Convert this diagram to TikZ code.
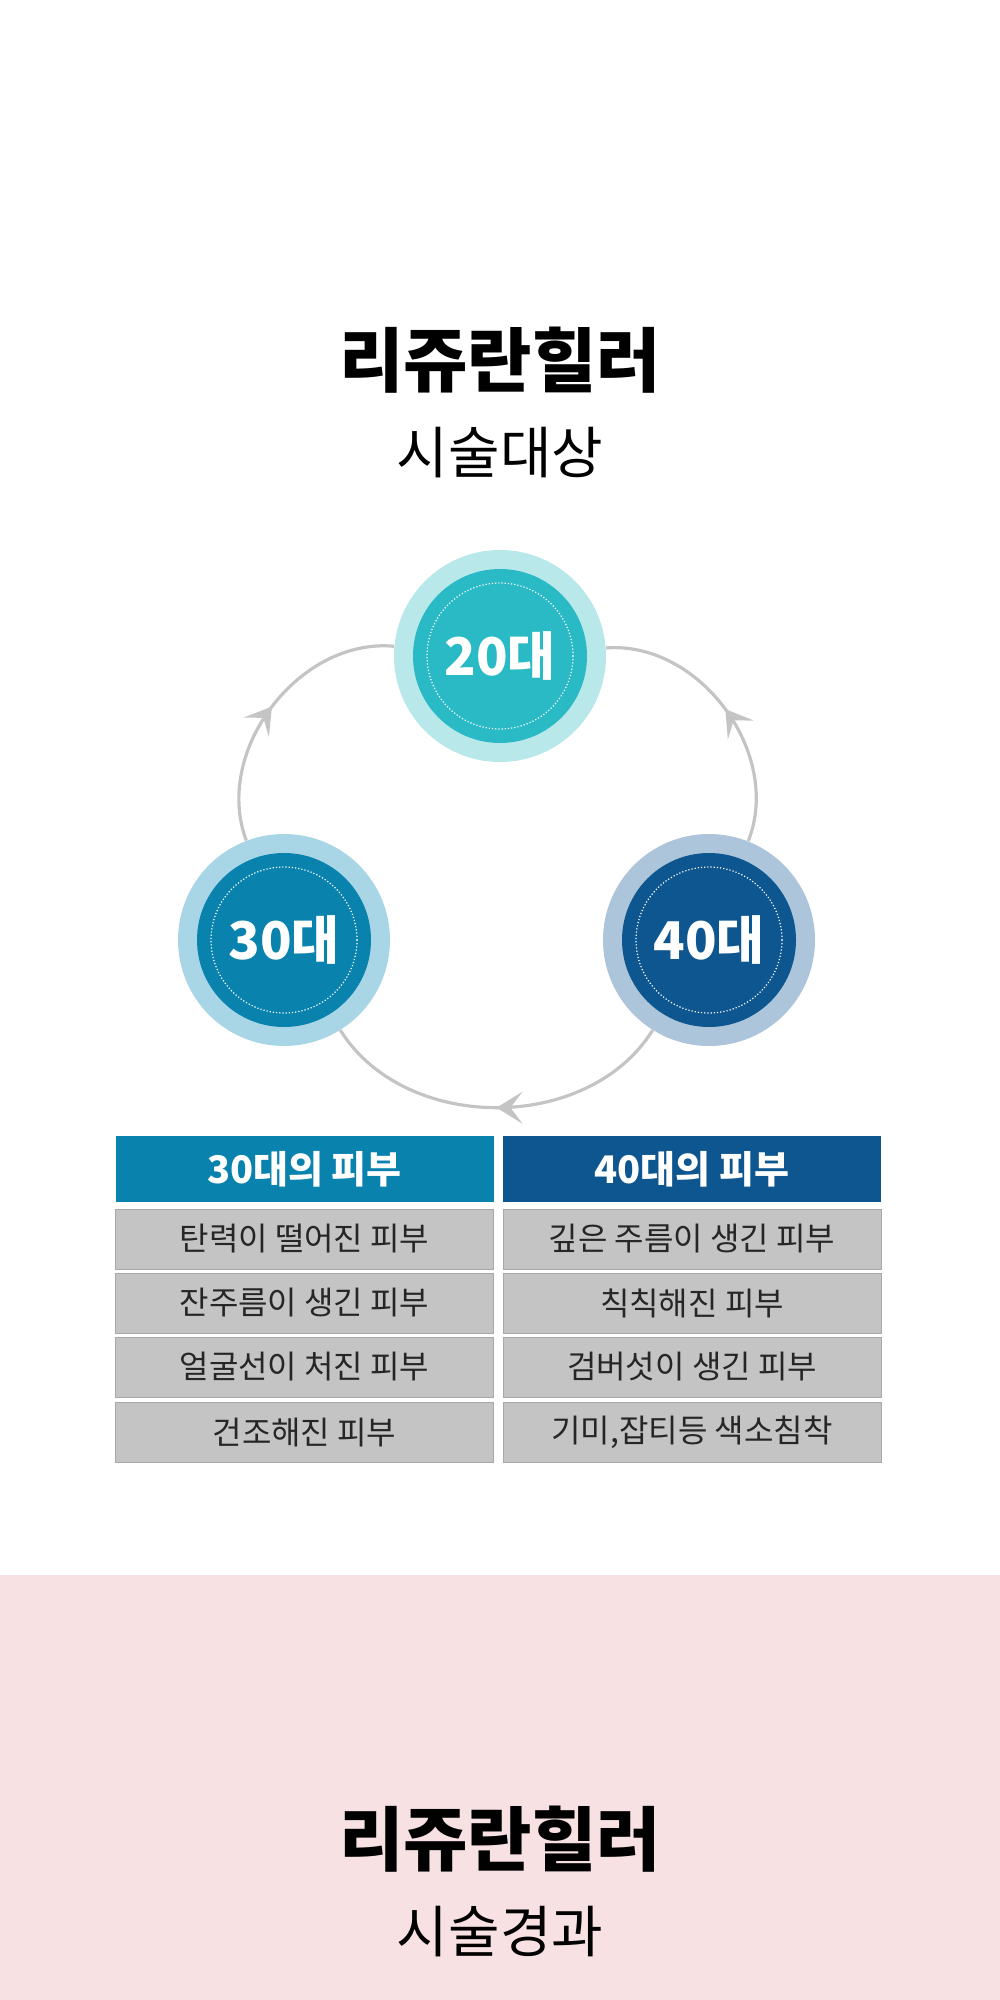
\documentclass[tikz,border=0pt]{standalone}
\usepackage{fontspec}
\setmainfont{Noto Sans CJK KR}
\usetikzlibrary{positioning, arrows.meta, decorations.markings}

\definecolor{tealout}{HTML}{B8E8EA}
\definecolor{tealin}{HTML}{2ABAC5}
\definecolor{blueout}{HTML}{A9D6E6}
\definecolor{bluein}{HTML}{0A82AE}
\definecolor{navyout}{HTML}{ADC5DA}
\definecolor{navyin}{HTML}{0D568F}
\definecolor{cellgray}{HTML}{C4C4C4}
\definecolor{cellline}{HTML}{A8A8A8}
\definecolor{pinkbg}{HTML}{F7E1E2}
\definecolor{ringgray}{HTML}{C4C4C4}

\tikzset{
  ageout/.style={circle, minimum size=106pt, inner sep=0pt},
  agein/.style={circle, minimum size=87pt, inner sep=0pt, text=white,
    font=\bfseries\fontsize{26}{30}\selectfont},
  dotring/.style={circle, minimum size=73pt, draw=white, densely dotted, line width=0.6pt},
  cycle/.style={draw=ringgray, line width=1.6pt, postaction={decorate},
    decoration={markings, mark=at position 0.5 with {\arrow{Stealth[length=13pt,width=16pt,inset=6pt]}}}},
  headcell/.style={minimum width=189pt, minimum height=33pt, inner sep=0pt, text=white,
    font=\bfseries\fontsize{19}{22}\selectfont},
  rowcell/.style={fill=cellgray, draw=cellline, line width=0.4pt, minimum width=189pt,
    minimum height=30pt, inner sep=0pt, text=black!85, font=\fontsize{16}{19}\selectfont},
  bigtitle/.style={font=\bfseries\fontsize{35}{40}\selectfont},
  subtitle/.style={font=\fontsize{28}{32}\selectfont}
}

\begin{document}
\begin{tikzpicture}[x=0.5pt, y=-0.5pt]
  \useasboundingbox (0,0) rectangle (1000,2000);
  \fill[pinkbg] (0,1575) rectangle (1000,2000);

  % titles
  \node[bigtitle] (t1) at (500,360) {리쥬란힐러};
  \node[subtitle] (s1) at (500,453) {시술대상};
  \node[bigtitle] (t2) at (500,1839) {리쥬란힐러};
  \node[subtitle] (s2) at (500,1932) {시술경과};

  % age circles
  \node[ageout, fill=tealout] (n20) at (500,656) {};
  \node[ageout, fill=navyout] (n40) at (709,940) {};
  \node[ageout, fill=blueout] (n30) at (284,940) {};
  \node[agein, fill=tealin] at (n20) {};
  \node[agein, fill=bluein] at (n30) {};
  \node[agein, fill=navyin] at (n40) {};
  \node[dotring] at (n20) {};
  \node[dotring] at (n30) {};
  \node[dotring] at (n40) {};
  \node[agein] (l20) at (n20) {20대};
  \node[agein] (l30) at (n30) {30대};
  \node[agein] (l40) at (n40) {40대};

  % cycle
  \draw[cycle] (n30) to[bend left=58] (n20);
  \draw[cycle] (n40) to[bend right=58] (n20);
  \draw[cycle] (n40) to[bend left=58] (n30);

  % table
  \node[headcell, fill=bluein] (h30) at (304.5,1169) {30대의 피부};
  \node[headcell, fill=navyin] (h40) at (692,1169) {40대의 피부};
  \node[rowcell] (a1) at (304.5,1239) {탄력이 떨어진 피부};
  \node[rowcell] (a2) at (304.5,1303) {잔주름이 생긴 피부};
  \node[rowcell] (a3) at (304.5,1367) {얼굴선이 처진 피부};
  \node[rowcell] (a4) at (304.5,1432) {건조해진 피부};
  \node[rowcell] (b1) at (692,1239) {깊은 주름이 생긴 피부};
  \node[rowcell] (b2) at (692,1303) {칙칙해진 피부};
  \node[rowcell] (b3) at (692,1367) {검버섯이 생긴 피부};
  \node[rowcell] (b4) at (692,1432) {기미,잡티등 색소침착};
\end{tikzpicture}
\end{document}
